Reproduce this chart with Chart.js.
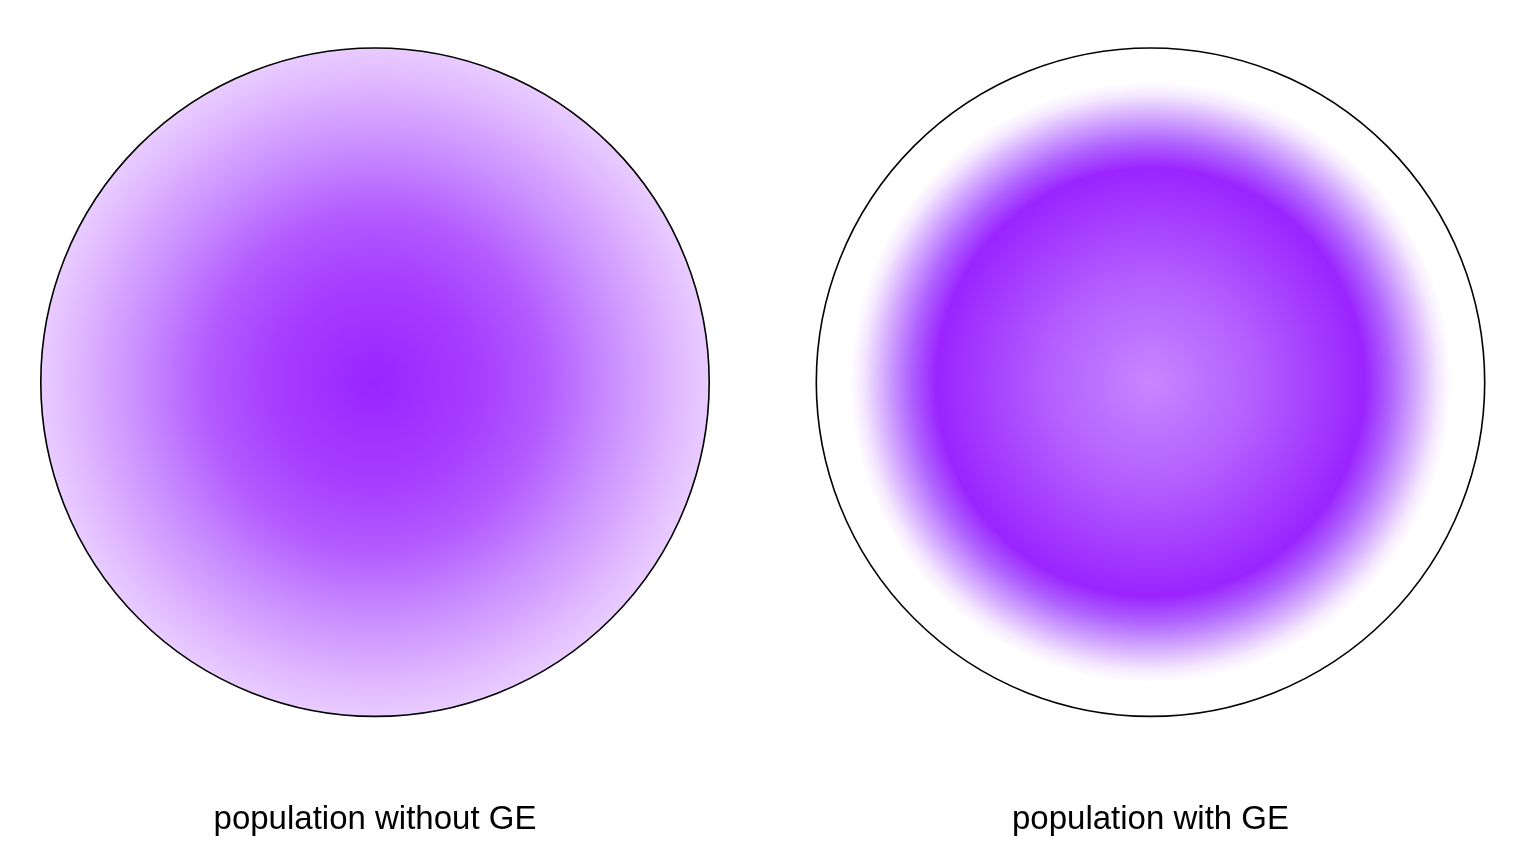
<!DOCTYPE html>
<html>
<head>
<meta charset="utf-8">
<title>population with / without GE</title>
<script src="https://cdn.jsdelivr.net/npm/chart.js@4.4.1/dist/chart.umd.min.js"></script>
<style>
  html, body { margin: 0; padding: 0; background: #fff; }
  .panel { position: absolute; top: 0; width: 767px; height: 856px; }
  #leftPanel { left: 0; }
  #rightPanel { left: 767px; }
</style>
</head>
<body>
<div class="panel" id="leftPanel"><canvas id="chartLeft"></canvas></div>
<div class="panel" id="rightPanel"><canvas id="chartRight"></canvas></div>

<script>
/* =========================
   DATOS
========================= */
const titles = ["population without GE", "population with GE"];
const populationLeft = [1];   // una sola población, círculo entero
const populationRight = [1];

/* =========================
   ESTILOS (gradientes)
========================= */
// paradas del gradiente radial: [posición relativa al radio, color]
const stopsLeft = [
  [0.00, "#9a24ff"],
  [0.30, "#a63dff"],
  [0.50, "#b35aff"],
  [0.70, "#c98cff"],
  [0.90, "#e0b8ff"],
  [1.00, "#e9ccff"]
];
const stopsRight = [
  [0.00, "#c886ff"],
  [0.30, "#b460ff"],
  [0.64, "#9a24ff"],
  [0.72, "#b064ff"],
  [0.80, "#d6aeff"],
  [0.86, "#f4e8ff"],
  [0.90, "#ffffff"],
  [1.00, "#ffffff"]
];

function radialFill(stops) {
  return ctx => {
    const area = ctx.chart.chartArea;
    if (!area) return stops[0][1];
    const cx = (area.left + area.right) / 2;
    const cy = (area.top + area.bottom) / 2;
    const r = Math.min(area.right - area.left, area.bottom - area.top) / 2;
    const g = ctx.chart.ctx.createRadialGradient(cx, cy, 0, cx, cy, r);
    stops.forEach(([pos, color]) => g.addColorStop(pos, color));
    return g;
  };
}

// contorno del círculo sin la línea radial del sector
const outlinePlugin = {
  id: "outline",
  afterDatasetsDraw(chart) {
    const c = chart.ctx;
    chart.getDatasetMeta(0).data.forEach(arc => {
      c.save();
      c.beginPath();
      c.arc(arc.x, arc.y, arc.outerRadius, 0, Math.PI * 2);
      c.lineWidth = 1.6;
      c.strokeStyle = "#000";
      c.stroke();
      c.restore();
    });
  }
};

/* =========================
   GRÁFICOS
========================= */
function makePie(canvasId, values, title, stops, padding) {
  return new Chart(document.getElementById(canvasId), {
    type: "pie",
    data: {
      labels: [title],
      datasets: [{
        data: values,
        backgroundColor: radialFill(stops),
        borderWidth: 0,
        hoverOffset: 0
      }]
    },
    options: {
      responsive: true,
      maintainAspectRatio: false,
      animation: false,
      events: [],
      layout: { padding: padding },
      plugins: {
        legend: { display: false },
        tooltip: { enabled: false },
        title: {
          display: true,
          text: title,
          position: "bottom",
          color: "#000",
          font: { family: "'Liberation Sans', Arial, sans-serif", size: 33, weight: "normal", lineHeight: 1.2 },
          padding: { top: 84, bottom: 16 }
        }
      }
    },
    plugins: [outlinePlugin]
  });
}

document.addEventListener("DOMContentLoaded", () => {
  makePie("chartLeft", populationLeft, titles[0], stopsLeft, { top: 48, left: 0, right: 17, bottom: 0 });
  makePie("chartRight", populationRight, titles[1], stopsRight, { top: 48, left: 0, right: 0, bottom: 0 });
});
</script>
</body>
</html>
